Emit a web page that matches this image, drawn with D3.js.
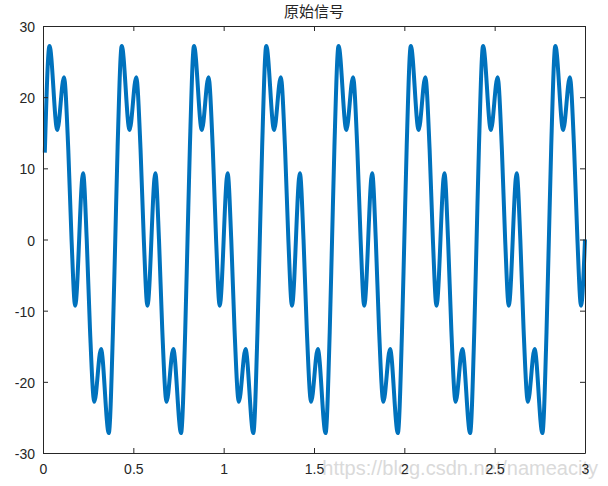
<!DOCTYPE html>
<html>
<head>
<meta charset="utf-8">
<script src="https://cdn.jsdelivr.net/npm/d3@7"></script>
<style>
    body { margin: 0; background: #fff; }
    svg { display: block; }
</style>
</head>
<body>
<div id="chart"></div>
<script>
// values: time (s) and signal amplitude
var time = [
    0.010, 0.036, 0.079, 0.116, 0.140, 0.158, 0.178, 0.222, 0.242, 0.260, 0.284, 0.321, 0.364, 0.387,
    0.400, 0.413, 0.436, 0.479, 0.516, 0.540, 0.558, 0.578, 0.622, 0.642, 0.660, 0.684, 0.721, 0.764, 0.787,
    0.800, 0.813, 0.836, 0.879, 0.916, 0.940, 0.958, 0.978, 1.022, 1.042, 1.060, 1.084, 1.121, 1.164, 1.187,
    1.200, 1.213, 1.236, 1.279, 1.316, 1.340, 1.358, 1.378, 1.422, 1.442, 1.460, 1.484, 1.521, 1.564, 1.587,
    1.600, 1.613, 1.636, 1.679, 1.716, 1.740, 1.758, 1.778, 1.822, 1.842, 1.860, 1.884, 1.921, 1.964, 1.987,
    2.000, 2.013, 2.036, 2.079, 2.116, 2.140, 2.158, 2.178, 2.222, 2.242, 2.260, 2.284, 2.321, 2.364, 2.387,
    2.400, 2.413, 2.436, 2.479, 2.516, 2.540, 2.558, 2.578, 2.622, 2.642, 2.660, 2.684, 2.721, 2.764, 2.787,
    2.800, 2.813, 2.836, 2.879, 2.916, 2.940, 2.958, 2.978, 3.000
];
var signal = [
    12.2, 27.2, 15.4, 22.8, 12.6, 0, -9.3, 9.3, 0, -12.6, -22.8, -15.4, -27.2, -13,
    0, 13, 27.2, 15.4, 22.8, 12.6, 0, -9.3, 9.3, 0, -12.6, -22.8, -15.4, -27.2, -13,
    0, 13, 27.2, 15.4, 22.8, 12.6, 0, -9.3, 9.3, 0, -12.6, -22.8, -15.4, -27.2, -13,
    0, 13, 27.2, 15.4, 22.8, 12.6, 0, -9.3, 9.3, 0, -12.6, -22.8, -15.4, -27.2, -13,
    0, 13, 27.2, 15.4, 22.8, 12.6, 0, -9.3, 9.3, 0, -12.6, -22.8, -15.4, -27.2, -13,
    0, 13, 27.2, 15.4, 22.8, 12.6, 0, -9.3, 9.3, 0, -12.6, -22.8, -15.4, -27.2, -13,
    0, 13, 27.2, 15.4, 22.8, 12.6, 0, -9.3, 9.3, 0, -12.6, -22.8, -15.4, -27.2, -13,
    0, 13, 27.2, 15.4, 22.8, 12.6, 0, -9.3, 0
];
var xTicks = [0, 0.5, 1, 1.5, 2, 2.5, 3];
var yTicks = [-30, -20, -10, 0, 10, 20, 30];
var title = "原始信号";
var watermark = "https://blog.csdn.net/nameacity";

var svgWidth = 608;
var svgHeight = 486;
var margin = {top: 26, right: 23, bottom: 33, left: 43};
var width = svgWidth - margin.left - margin.right;
var height = svgHeight - margin.top - margin.bottom;

var svgBG = d3.select("#chart").append("svg")
    .attr("width", svgWidth)
    .attr("height", svgHeight);
svgBG.append("rect")
    .attr("width", svgWidth)
    .attr("height", svgHeight)
    .attr("fill", "#fff");

// watermark sits behind the axes, as in the picture
svgBG.append("text")
    .attr("x", 598)
    .attr("y", 475)
    .attr("text-anchor", "end")
    .attr("fill", "#dadada")
    .style("font-family", "'Liberation Sans', Arial, sans-serif")
    .style("font-size", "20px")
    .text(watermark);

var svg = svgBG.append("g")
    .attr("transform", "translate(" + margin.left + "," + margin.top + ")");

var x = d3.scaleLinear().domain([0, 3]).range([0, width]);
var y = d3.scaleLinear().domain([-30, 30]).range([height, 0]);

var data = time.map(function(t, i) { return {t: t, v: signal[i]}; });

// signal line
var line = d3.line()
    .x(function(d) { return x(d.t); })
    .y(function(d) { return y(d.v); })
    .curve(d3.curveMonotoneX);

svg.append("path")
    .datum(data)
    .attr("d", line)
    .attr("fill", "none")
    .attr("stroke", "#0072BD")
    .attr("stroke-width", 4)
    .attr("stroke-linejoin", "round");

// axes, MATLAB style box with inward ticks
var axisColor = "#262626";
var fontFam = "'Liberation Sans', Arial, Helvetica, sans-serif";
var plainFmt = function(d) { return String(d); };   // keep the hyphen minus

function styleAxis(g) {
    g.selectAll("path").attr("stroke", axisColor).attr("stroke-width", 1);
    g.selectAll("line").attr("stroke", axisColor).attr("stroke-width", 1);
    g.selectAll("text")
        .attr("fill", axisColor)
        .style("font-family", fontFam)
        .style("font-size", "14px");
}

var xAxisSVG = svg.append("g")
    .attr("transform", "translate(0," + height + ")")
    .call(d3.axisBottom(x).tickValues(xTicks).tickSizeInner(-5).tickSizeOuter(0)
        .tickPadding(11).tickFormat(plainFmt));
styleAxis(xAxisSVG);

var yAxisSVG = svg.append("g")
    .call(d3.axisLeft(y).tickValues(yTicks).tickSizeInner(-5).tickSizeOuter(0)
        .tickPadding(8).tickFormat(plainFmt));
styleAxis(yAxisSVG);
yAxisSVG.selectAll("text").attr("dy", "0.4em");

var topAxis = svg.append("g")
    .call(d3.axisTop(x).tickValues(xTicks).tickSizeInner(-5).tickSizeOuter(0).tickFormat(""));
styleAxis(topAxis);

var rightAxis = svg.append("g")
    .attr("transform", "translate(" + width + ",0)")
    .call(d3.axisRight(y).tickValues(yTicks).tickSizeInner(-5).tickSizeOuter(0).tickFormat(""));
styleAxis(rightAxis);

// title
svgBG.append("text")
    .attr("x", margin.left + width / 2)
    .attr("y", 17)
    .attr("text-anchor", "middle")
    .attr("fill", axisColor)
    .style("font-family", "'Noto Sans CJK SC', sans-serif")
    .style("font-size", "15px")
    .text(title);
</script>
</body>
</html>
